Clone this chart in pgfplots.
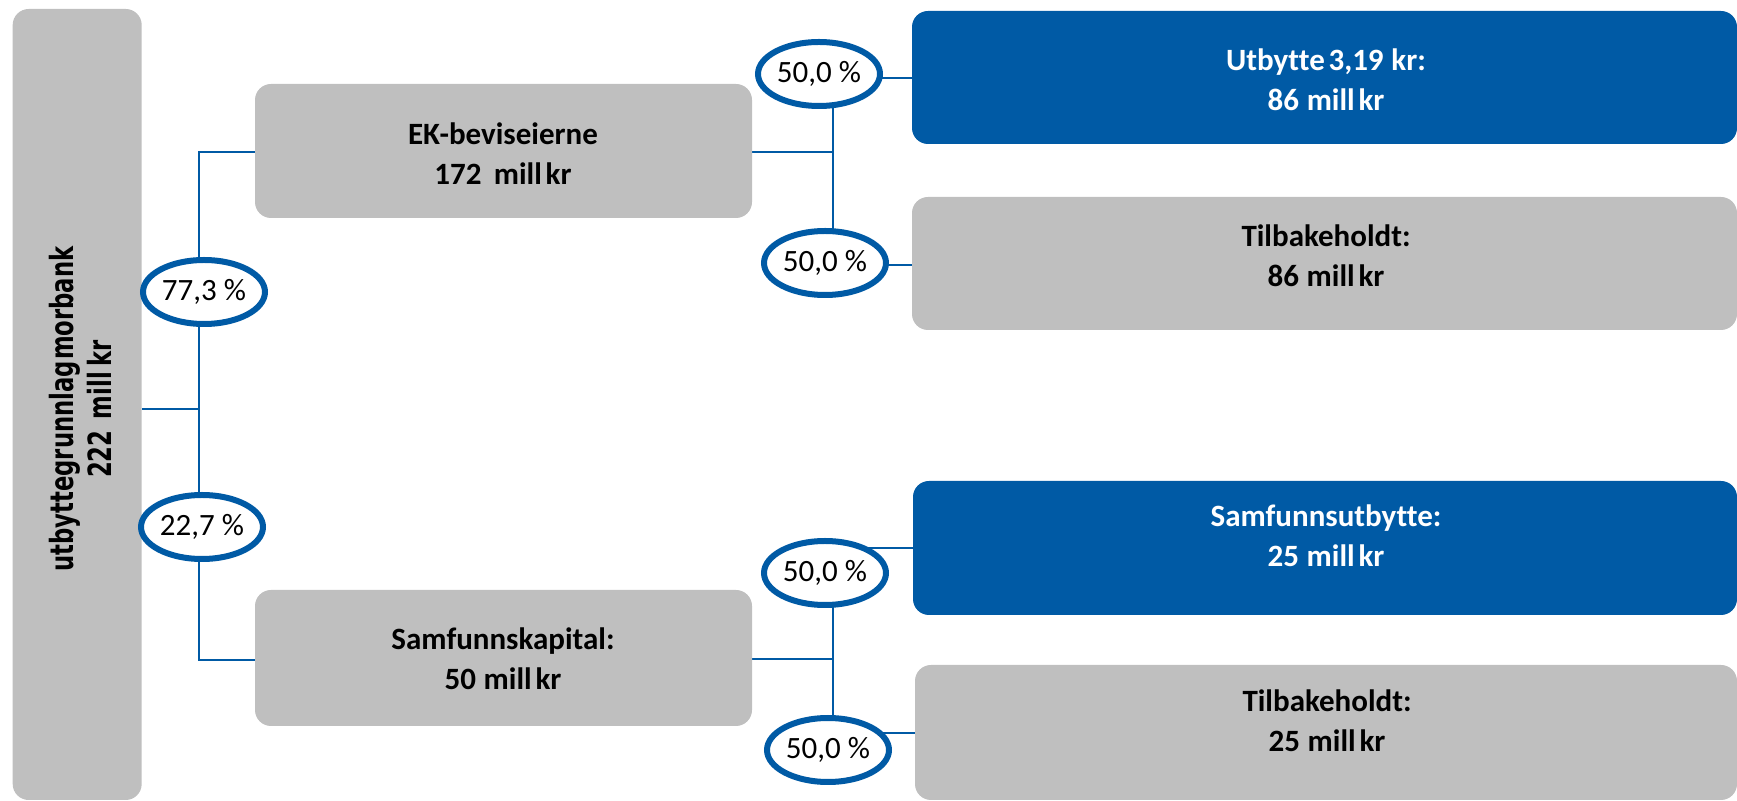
\documentclass[border=0pt]{standalone}
\usepackage{pgfplots}
\pgfplotsset{compat=1.18}
\usetikzlibrary{shapes.geometric}
\usepackage{fontspec}
\setmainfont[Ligatures=NoCommon]{Carlito}
\newfontfamily\dv{DejaVu Sans}
\usepackage{graphicx}
\definecolor{bl}{RGB}{0,90,165}
\definecolor{gr}{RGB}{191,191,191}
\begin{document}
\begin{tikzpicture}
\begin{axis}[
  scale only axis, width=868.5pt, height=400.5pt,
  xmin=0, xmax=1737, ymin=0, ymax=801, y dir=reverse,
  hide axis, clip=false,
]
\path (axis cs:0,0) rectangle (axis cs:1737,801);
% connector lines
\addplot[bl, line width=1pt, forget plot] coordinates {(142,409) (199,409)};
\addplot[bl, line width=1pt, forget plot] coordinates {(255,152) (199,152) (199,660) (255,660)};
\addplot[bl, line width=1pt, forget plot] coordinates {(752,152) (833,152)};
\addplot[bl, line width=1pt, forget plot] coordinates {(833,80) (833,263)};
\addplot[bl, line width=1pt, forget plot] coordinates {(752,659) (833,659)};
\addplot[bl, line width=1pt, forget plot] coordinates {(833,560) (833,740)};
\addplot[bl, line width=1pt, forget plot] coordinates {(860,78) (913,78)};
\addplot[bl, line width=1pt, forget plot] coordinates {(860,265) (913,265)};
\addplot[bl, line width=1pt, forget plot] coordinates {(860,548) (914,548)};
\addplot[bl, line width=1pt, forget plot] coordinates {(860,733) (916,733)};
% boxes
\fill[gr, rounded corners=8pt] (axis cs:12.7,9) rectangle (axis cs:141.7,800);
\fill[gr, rounded corners=8pt] (axis cs:255,84) rectangle (axis cs:752,218);
\fill[gr, rounded corners=8pt] (axis cs:255,590) rectangle (axis cs:752,726);
\fill[bl, rounded corners=8pt] (axis cs:912,11) rectangle (axis cs:1737,144);
\fill[gr, rounded corners=8pt] (axis cs:912,197) rectangle (axis cs:1737,330);
\fill[bl, rounded corners=8pt] (axis cs:913,481) rectangle (axis cs:1737,615);
\fill[gr, rounded corners=8pt] (axis cs:915,665) rectangle (axis cs:1737,800);
% box texts
\tikzset{bt/.style={align=center, font=\bfseries\fontsize{15.5}{20}\selectfont, inner sep=0pt}}
\node[align=center, inner sep=0pt, font=\dv\bfseries\fontsize{16}{19}\selectfont, rotate=90] at (axis cs:80,409) {\scalebox{0.71}[1]{utbyttegrunnlag\hspace{0.05em}morbank}\\\scalebox{0.71}[1]{222\hspace{0.5em}mill\hspace{0.25em}kr}};
\node[bt] at (axis cs:503,154) {EK-beviseierne\\172\hspace{0.4em}mill\hspace{0.12em}kr};
\node[bt] at (axis cs:503,659) {Samfunnskapital:\\50\hspace{0.25em}mill\hspace{0.12em}kr};
\node[bt, white] at (axis cs:1326,80) {Utbytte\hspace{0.12em}3,19\hspace{0.25em}kr:\\86\hspace{0.25em}mill\hspace{0.12em}kr};
\node[bt] at (axis cs:1326,256) {Tilbakeholdt:\\86\hspace{0.25em}mill\hspace{0.12em}kr};
\node[bt, white] at (axis cs:1326,536) {Samfunnsutbytte:\\25\hspace{0.25em}mill\hspace{0.12em}kr};
\node[bt] at (axis cs:1327,721) {Tilbakeholdt:\\25\hspace{0.25em}mill\hspace{0.12em}kr};
% circles
\tikzset{pc/.style={ellipse, draw=bl, fill=white, line width=3pt, minimum width=61pt, minimum height=32pt, inner sep=0pt, font=\fontsize{15.5}{18}\selectfont}}
\node[pc] at (axis cs:204,292) {77,3 \%};
\node[pc] at (axis cs:202,527) {22,7 \%};
\node[pc] at (axis cs:819,74) {50,0 \%};
\node[pc] at (axis cs:825,263) {50,0 \%};
\node[pc] at (axis cs:825,573) {50,0 \%};
\node[pc] at (axis cs:828,750) {50,0 \%};
\end{axis}
\end{tikzpicture}
\end{document}
